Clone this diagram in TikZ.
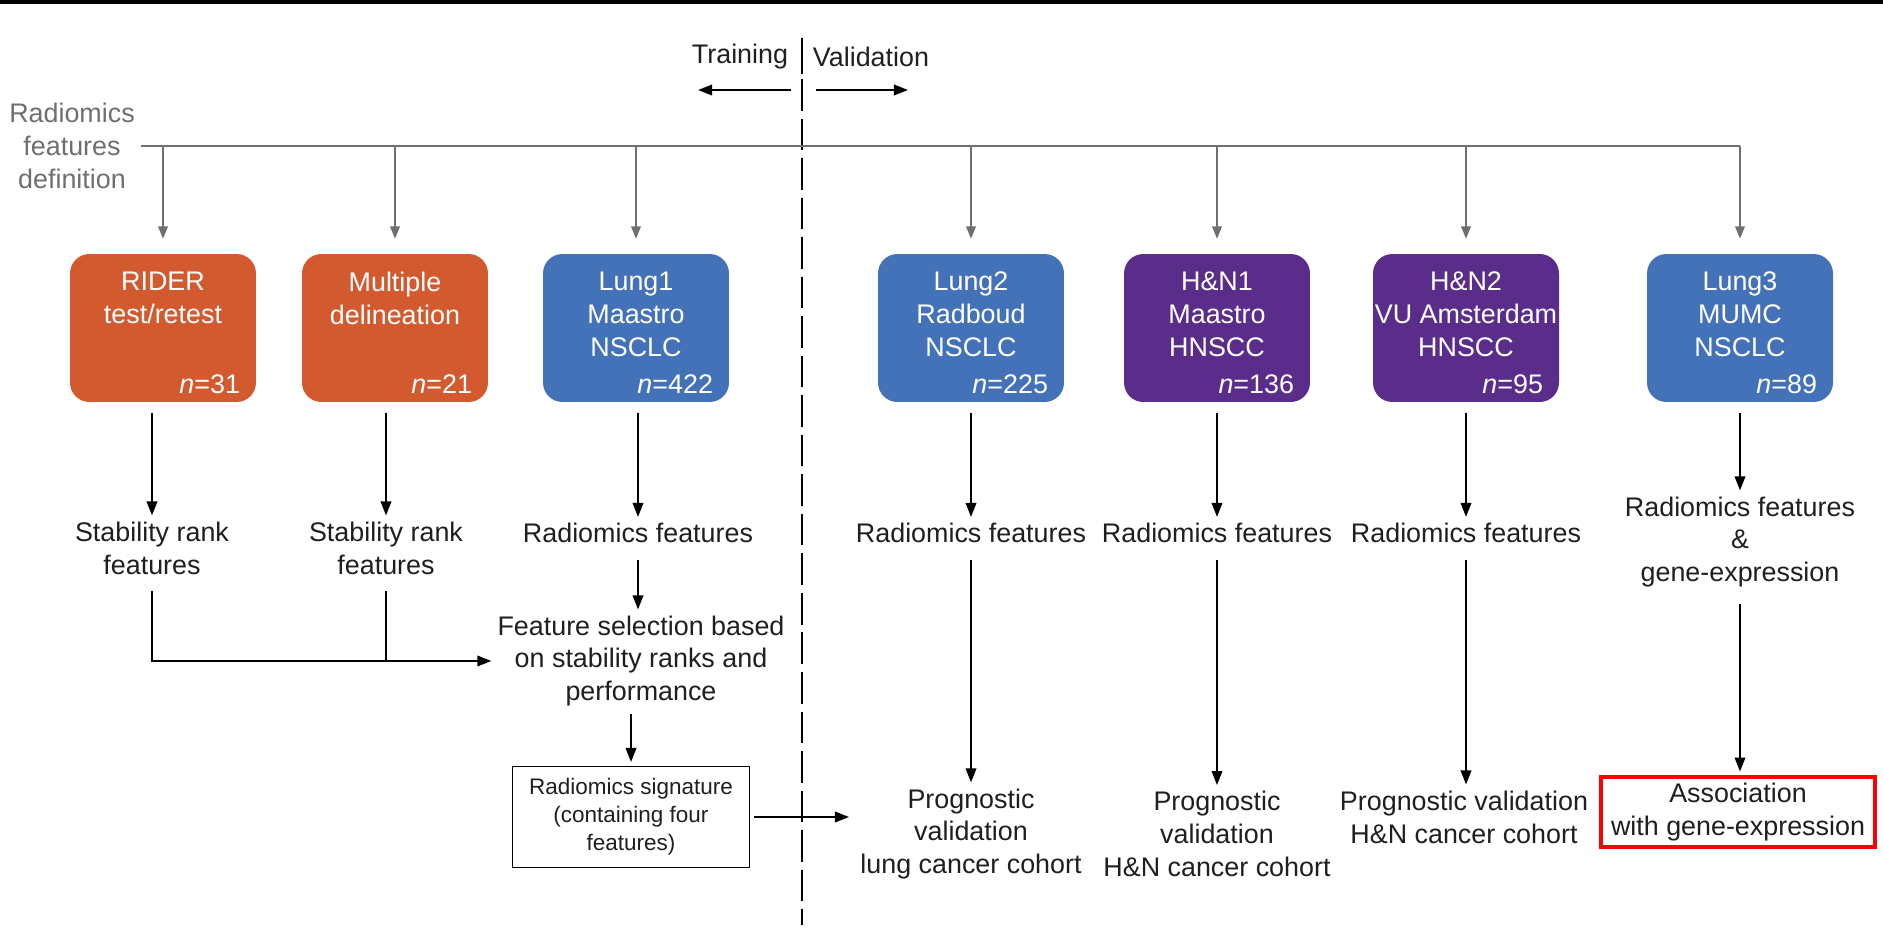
\documentclass[tikz,border=0pt]{standalone}
\usepackage{fontspec}
\setmainfont{Liberation Sans}
\usepackage{xcolor}
\definecolor{RDorange}{HTML}{D35A2E}
\definecolor{RDblue}{HTML}{4472B8}
\definecolor{RDpurple}{HTML}{5B2D8A}
\definecolor{RDgray}{HTML}{6F6F6F}
\definecolor{RDtext}{HTML}{1F1F1F}
\usepackage{tikz}
\usetikzlibrary{arrows.meta}

\begin{document}
\begin{tikzpicture}[x=0.02cm,y=-0.02cm,
  cohort/.style={rounded corners=11pt,minimum width=3.72cm,minimum height=2.96cm,inner sep=0pt},
  boxtitle/.style={anchor=north,yshift=-0.36cm,align=center,text=white,inner sep=0pt,
    font=\fontsize{15.3}{18.7}\selectfont},
  boxcount/.style={anchor=base east,xshift=-0.32cm,yshift=0.18cm,text=white,inner sep=0pt,
    font=\fontsize{15.3}{18.7}\selectfont},
  txt/.style={align=center,text=RDtext,font=\fontsize{15.3}{18.7}\selectfont},
  sigbox/.style={draw=black,line width=1.1pt,align=center,text=RDtext,
    minimum width=4.74cm,minimum height=2.02cm,font=\fontsize{12.8}{16}\selectfont},
  assocbox/.style={draw=red,line width=2.2pt,align=center,text=RDtext,
    minimum width=5.48cm,minimum height=1.4cm,font=\fontsize{15.3}{18.7}\selectfont},
  bus/.style={draw=RDgray,line width=1.5pt},
  feed/.style={-{Triangle[length=7pt,width=5.5pt]},draw=RDgray,line width=0.85pt,shorten >=8.5pt},
  link/.style={-{Triangle[length=8pt,width=6pt]},draw=black,line width=1.1pt,shorten <=6pt},
  joint/.style={draw=black,line width=1.1pt,shorten <=6pt},
  divider/.style={draw=black,line width=1pt}]
\useasboundingbox (0,0) rectangle (1883,930);
\draw[line width=2.5pt] (0,2) -- (1883,2);
\node[txt] (training) at (740,57) {Training};
\node[txt] (validation) at (871,57) {Validation};
\coordinate (divtop) at (802,38);
\coordinate (divmid) at (802,74);
\coordinate (divdash) at (802,79);
\coordinate (divbot) at (802,925);
\draw[divider] (divtop) -- (divmid);
\draw[divider,dash pattern=on 18pt off 4.5pt] (divdash) -- (divbot);
\coordinate (trainR) at (791,90);
\coordinate (trainL) at (698,90);
\coordinate (validL) at (816,90);
\coordinate (validR) at (908,90);
\draw[link,shorten <=0pt] (trainR) -- (trainL);
\draw[link,shorten <=0pt] (validL) -- (validR);
\node[txt,text=RDgray] (def) at (72,146) {Radiomics\\features\\definition};
\node[cohort,fill=RDorange,label={[boxtitle]north:RIDER\\test/retest},
  label={[boxcount]south east:{\textit{n}=31}}] (rider) at (163,328) {};
\node[cohort,fill=RDorange,label={[boxtitle]north:Multiple\\delineation},
  label={[boxcount]south east:{\textit{n}=21}}] (multi) at (395,328) {};
\node[cohort,fill=RDblue,label={[boxtitle]north:Lung1\\Maastro\\NSCLC},
  label={[boxcount]south east:{\textit{n}=422}}] (lung1) at (636,328) {};
\node[cohort,fill=RDblue,label={[boxtitle]north:Lung2\\Radboud\\NSCLC},
  label={[boxcount]south east:{\textit{n}=225}}] (lung2) at (971,328) {};
\node[cohort,fill=RDpurple,label={[boxtitle]north:H\&N1\\Maastro\\HNSCC},
  label={[boxcount]south east:{\textit{n}=136}}] (hn1) at (1217,328) {};
\node[cohort,fill=RDpurple,label={[boxtitle]north:H\&N2\\VU Amsterdam\\HNSCC},
  label={[boxcount]south east:{\textit{n}=95}}] (hn2) at (1466,328) {};
\node[cohort,fill=RDblue,label={[boxtitle]north:Lung3\\MUMC\\NSCLC},
  label={[boxcount]south east:{\textit{n}=89}}] (lung3) at (1740,328) {};
\draw[bus] (def.east) -- (def.east -| lung3);
\draw[feed] (rider |- def.east) -- (rider);
\draw[feed] (multi |- def.east) -- (multi);
\draw[feed] (lung1 |- def.east) -- (lung1);
\draw[feed] (lung2 |- def.east) -- (lung2);
\draw[feed] (hn1 |- def.east) -- (hn1);
\draw[feed] (hn2 |- def.east) -- (hn2);
\draw[feed] (lung3 |- def.east) -- (lung3);
\node[txt] (stab1) at (152,548) {Stability rank\\features};
\node[txt] (stab2) at (386,548) {Stability rank\\features};
\node[txt] (feat1) at (638,533) {Radiomics features};
\node[txt] (select) at (641,661) {Feature selection based\\on stability ranks and\\performance};
\node[sigbox] (signature) at (631,817) {Radiomics signature\\(containing four\\features)};
\node[txt] (feat2) at (971,533) {Radiomics features};
\node[txt] (feat3) at (1217,533) {Radiomics features};
\node[txt] (feat4) at (1466,533) {Radiomics features};
\node[txt] (feat5) at (1740,542) {Radiomics features\\\&\\gene-expression};
\node[txt] (prog2) at (971,834) {Prognostic\\validation\\lung cancer cohort};
\node[txt] (prog3) at (1217,834) {Prognostic\\validation\\H\&N cancer cohort};
\node[txt] (prog4) at (1464,817) {Prognostic validation\\H\&N cancer cohort};
\node[assocbox] (assoc) at (1738,812) {Association\\with gene-expression};
\coordinate (lungin) at (849,817);
\draw[link] (rider.south -| stab1) -- (stab1);
\draw[link] (multi.south -| stab2) -- (stab2);
\draw[link] (lung1.south -| feat1) -- (feat1);
\draw[link] (feat1) -- (feat1 |- select.north);
\draw[link] (stab1) |- (select.west);
\draw[joint] (stab2) -- (stab2 |- select.west);
\draw[link,shorten <=1pt,shorten >=2pt] (select.south -| signature) -- (signature);
\draw[link,shorten <=2pt] (signature) -- (lungin);
\draw[link] (lung2) -- (feat2);
\draw[link] (feat2) -- (prog2);
\draw[link] (hn1) -- (feat3);
\draw[link] (feat3) -- (prog3);
\draw[link] (hn2) -- (feat4);
\draw[link] (feat4) -- (feat4 |- prog4.north);
\draw[link] (lung3.south -| feat5) -- (feat5);
\draw[link,shorten >=2pt] (feat5) -- (feat5 |- assoc.north);
\end{tikzpicture}
\end{document}
